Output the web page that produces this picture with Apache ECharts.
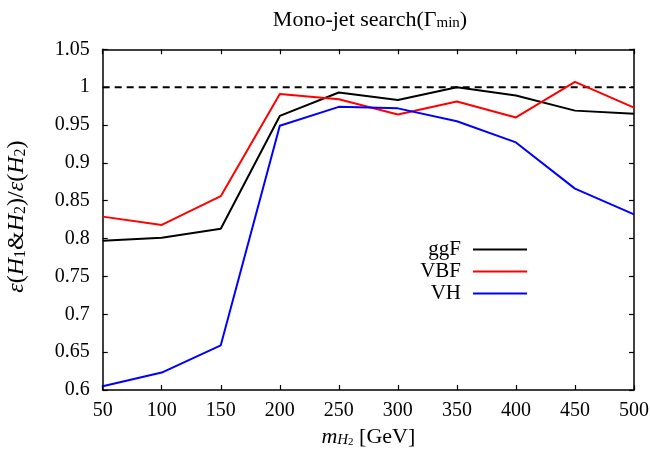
<!DOCTYPE html>
<html><head><meta charset="utf-8">
<script src="https://cdn.jsdelivr.net/npm/echarts@6/dist/echarts.min.js"></script>
<style>html,body{margin:0;padding:0;background:#fff}#c{width:650px;height:453px}</style>
</head><body><div id="c"></div>
<script>
const masses = [50, 100, 150, 200, 250, 300, 350, 400, 450, 500];
const ggF = [0.797, 0.801, 0.813, 0.962, 0.993, 0.983, 1.000, 0.989, 0.969, 0.965];
const VBF = [0.829, 0.818, 0.856, 0.991, 0.984, 0.964, 0.981, 0.960, 1.007, 0.973];
const VH  = [0.605, 0.623, 0.659, 0.949, 0.974, 0.972, 0.955, 0.927, 0.866, 0.832];
const refLine = [1, 1];
const refX = [50, 500];
const seriesNames = ['ggF', 'VBF', 'VH'];
const colors = ['#000000', '#ff0000', '#0000ff'];

const FONT = 'Liberation Serif';
const pair = (xs, ys) => xs.map((x, i) => [x, ys[i]]);

const chart = echarts.init(document.getElementById('c'), null, {renderer: 'canvas'});
const axisCommon = {
  type: 'value', splitLine: {show: false},
  axisLine: {show: true, onZero: false, lineStyle: {color: '#000', width: 1.5}},
  axisTick: {show: true, inside: true, length: 5, lineStyle: {color: '#000', width: 1.2}}
};
const mathRich = (big, small) => ({
  i: {fontFamily: FONT, fontStyle: 'italic', fontSize: big, color: '#000'},
  n: {fontFamily: FONT, fontSize: big, color: '#000'},
  s: {fontFamily: FONT, fontSize: small, verticalAlign: 'bottom', lineHeight: small + 1, color: '#000'},
  si: {fontFamily: FONT, fontStyle: 'italic', fontSize: small, verticalAlign: 'bottom', lineHeight: small + 1, color: '#000'},
  ss: {fontFamily: FONT, fontSize: 11, verticalAlign: 'bottom', lineHeight: 11, color: '#000'}
});
chart.setOption({
  animation: false,
  title: {
    text: 'Mono-jet search(Γ{s|min})',
    left: 365, top: 4, textAlign: 'center',
    textStyle: {fontFamily: FONT, fontSize: 22, fontWeight: 'normal', color: '#000',
      rich: {s: {fontFamily: FONT, fontSize: 15, verticalAlign: 'bottom', lineHeight: 16, color: '#000'}}}
  },
  grid: {left: 102.7, right: 16, top: 49.3, bottom: 63, outerBoundsMode: 'none', containLabel: false},
  legend: {
    data: seriesNames, orient: 'vertical', align: 'right',
    left: 396, top: 234, itemWidth: 54, itemHeight: 2, itemGap: 1,
    icon: 'rect',
    textStyle: {fontFamily: FONT, fontSize: 21, color: '#000', width: 60, align: 'right',
      lineHeight: 20, padding: [0, 7, 0, 0]}
  },
  xAxis: [
    Object.assign({}, axisCommon, {
      min: 50, max: 500, interval: 50, position: 'bottom',
      axisLabel: {fontFamily: FONT, fontSize: 20, color: '#000', margin: 11},
      name: '{i|m}{si|H}{ss|2}{n| [GeV]}', nameLocation: 'middle', nameGap: 36,
      nameTextStyle: {fontFamily: FONT, fontSize: 22, color: '#000', rich: mathRich(22, 15)}
    }),
    Object.assign({}, axisCommon, {
      min: 50, max: 500, interval: 50, position: 'top', axisLabel: {show: false}
    })
  ],
  yAxis: [
    Object.assign({}, axisCommon, {
      min: 0.6, max: 1.05, interval: 0.05, position: 'left',
      axisLabel: {fontFamily: FONT, fontSize: 20, color: '#000', margin: 13,
        formatter: v => String(parseFloat(v.toFixed(2)))},
      name: '{i|ε}{n|(}{i|H}{s|1}{n|&}{i|H}{s|2}{n|)/}{i|ε}{n|(}{i|H}{s|2}{n|)}',
      nameLocation: 'middle', nameGap: 74, nameRotate: 90,
      nameTextStyle: {fontFamily: FONT, fontSize: 24, color: '#000', rich: mathRich(24, 16), padding: [0, 0, 0, 6]}
    }),
    Object.assign({}, axisCommon, {
      min: 0.6, max: 1.05, interval: 0.05, position: 'right', axisLabel: {show: false}
    })
  ],
  series: [
    {name: 'ref', type: 'line', data: pair(refX, refLine), symbol: 'none', silent: true,
      lineStyle: {color: '#000', width: 2, type: [7, 5]}},
    ...seriesNames.map((n, k) => ({
      name: n, type: 'line', data: pair(masses, [ggF, VBF, VH][k]), symbol: 'none',
      itemStyle: {color: colors[k]}, lineStyle: {color: colors[k], width: 2}
    }))
  ]
});
</script></body></html>
